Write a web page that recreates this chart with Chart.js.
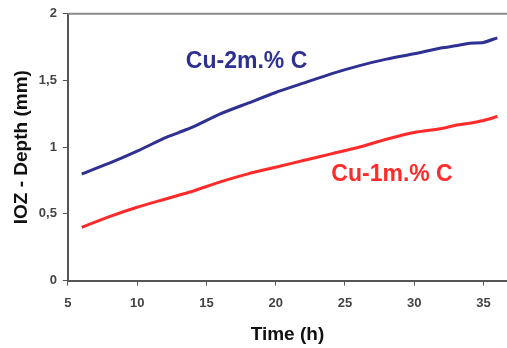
<!DOCTYPE html>
<html>
<head>
<meta charset="utf-8">
<script src="https://cdn.jsdelivr.net/npm/chart.js@4.4.0/dist/chart.umd.min.js"></script>
<style>
  html, body { margin: 0; padding: 0; background: #fff; }
  #wrap { width: 507px; height: 348px; }
</style>
</head>
<body>
<div id="wrap"><canvas id="depthChart" width="507" height="348"></canvas></div>
<script>
// IOZ depth vs time for two carbon contents

const hours = [6, 8, 10, 12, 13, 14, 16, 18, 20, 22, 24, 26, 28, 30, 32, 33, 34, 35, 36];
const cu2C  = [0.80, 0.88, 0.97, 1.07, 1.11, 1.15, 1.25, 1.33, 1.41, 1.48, 1.55, 1.61, 1.66, 1.70, 1.745, 1.76, 1.78, 1.785, 1.82];
const cu1C  = [0.40, 0.48, 0.55, 0.61, 0.64, 0.67, 0.74, 0.80, 0.85, 0.90, 0.95, 1.00, 1.06, 1.11, 1.14, 1.165, 1.18, 1.20, 1.23];

const xTicks = [5, 10, 15, 20, 25, 30, 35];
const yTicks = [0, 0.5, 1, 1.5, 2];

const seriesLabels = ["Cu-2m.% C", "Cu-1m.% C"];
const labelAt = [[17.9, 1.64], [28.4, 0.795]];

const BLUE = "#2e3192";
const RED = "#ff2a2a";
const FONT = "'Liberation Sans', Arial, sans-serif";

function toPoints(xs, ys) {
    return xs.map(function (x, i) { return { x: x, y: ys[i] }; });
}

// top frame line + in-plot series labels
const decorations = {
    id: "decorations",
    afterDraw: function (chart) {
        var c = chart.ctx, a = chart.chartArea;
        c.save();
        c.strokeStyle = "#8a8a8a";
        c.lineWidth = 2;
        c.beginPath();
        c.moveTo(a.left, a.top);
        c.lineTo(a.right, a.top);
        c.stroke();

        c.font = "bold 23px " + FONT;
        c.textAlign = "center";
        c.textBaseline = "middle";
        [BLUE, RED].forEach(function (col, i) {
            c.fillStyle = col;
            c.fillText(seriesLabels[i],
                chart.scales.x.getPixelForValue(labelAt[i][0]),
                chart.scales.y.getPixelForValue(labelAt[i][1]));
        });
        c.restore();
    }
};

const ctx = document.getElementById("depthChart").getContext("2d");

new Chart(ctx, {
    type: "line",
    data: {
        datasets: [
            {
                label: seriesLabels[0],
                data: toPoints(hours, cu2C),
                borderColor: BLUE,
                borderWidth: 3,
                pointRadius: 0,
                tension: 0.2,
                fill: false
            },
            {
                label: seriesLabels[1],
                data: toPoints(hours, cu1C),
                borderColor: RED,
                borderWidth: 3,
                pointRadius: 0,
                tension: 0.2,
                fill: false
            }
        ]
    },
    options: {
        responsive: false,
        animation: false,
        layout: { padding: { top: 8, right: 0, left: 5, bottom: 0 } },
        scales: {
            x: {
                type: "linear",
                min: 5,
                max: 36.7,
                afterBuildTicks: function (axis) {
                    axis.ticks = xTicks.map(function (v) { return { value: v }; });
                },
                grid: { display: true, drawOnChartArea: false, tickLength: 5, color: "#555" },
                border: { color: "#555", width: 2 },
                ticks: {
                    color: "#444",
                    font: { family: FONT, size: 13, weight: "bold" },
                    padding: 10
                },
                title: {
                    display: true,
                    text: "Time (h)",
                    color: "#111",
                    font: { family: FONT, size: 19, weight: "bold" },
                    padding: { top: 2, bottom: 2 }
                }
            },
            y: {
                min: 0,
                max: 2,
                afterBuildTicks: function (axis) {
                    axis.ticks = yTicks.map(function (v) { return { value: v }; });
                },
                grid: { display: true, drawOnChartArea: false, tickLength: 5, color: "#555" },
                border: { color: "#555", width: 2 },
                ticks: {
                    color: "#444",
                    font: { family: FONT, size: 13, weight: "bold" },
                    padding: 6,
                    callback: function (v) { return String(v).replace(".", ","); }
                },
                title: {
                    display: true,
                    text: "IOZ - Depth (mm)",
                    color: "#111",
                    font: { family: FONT, size: 19, weight: "bold" },
                    padding: { top: 5, bottom: 0 }
                }
            }
        },
        plugins: {
            legend: { display: false },
            tooltip: { enabled: false }
        }
    },
    plugins: [decorations]
});
</script>
</body>
</html>
